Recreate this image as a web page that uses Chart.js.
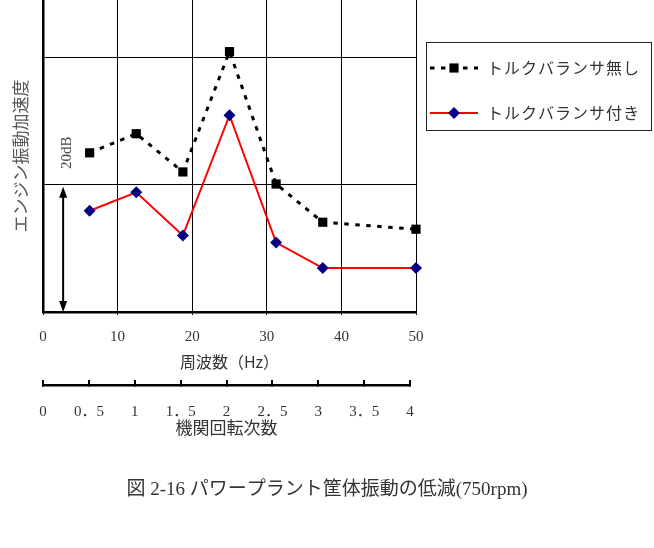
<!DOCTYPE html>
<html><head><meta charset="utf-8">
<script src="https://cdn.jsdelivr.net/npm/chart.js@4/dist/chart.umd.min.js"></script>
<style>html,body{margin:0;padding:0;background:#fff;}</style>
</head><body>
<canvas id="c" width="654" height="548"></canvas>
<script>
// ---- data ----
const frequencyHz = [6.25, 12.5, 18.75, 25, 31.25, 37.5, 50];
const withoutBalancer = [25.0, 28.0, 22.0, 40.9, 20.1, 14.1, 13.0];
const withBalancer = [15.9, 18.8, 12.0, 30.9, 10.9, 6.9, 6.9];
const seriesNames = ['トルクバランサ無し', 'トルクバランサ付き'];
const hzTickValues = [0, 10, 20, 30, 40, 50];
const orderTickValues = [0, 0.5, 1, 1.5, 2, 2.5, 3, 3.5, 4];
const orderTickLabels = ['0', '0．5', '1', '1．5', '2', '2．5', '3', '3．5', '4'];
const orderAxisEndHz = 49.2;           // where order 4 sits along the Hz axis in the drawing
const scaleBar = {hz: 2.7, from: 0, to: 20, labelAt: 25, label: '20dB'};
const yMax = 49;

const SERIF = "'Liberation Serif','Noto Sans CJK JP',serif";
const JP = "'Noto Sans CJK JP',sans-serif";

const orderAxisSpan = {
  id: 'orderAxisSpan',
  afterLayout(chart) {
    const s = chart.scales.x2, xs = chart.scales.x;
    s.right = xs.getPixelForValue(orderAxisEndHz);
    s.width = s.right - s.left;
    s.configure();
  }
};

const extras = {
  id: 'extras',
  afterDraw(chart) {
    const ctx = chart.ctx, xs = chart.scales.x, ys = chart.scales.y, ca = chart.chartArea;
    ctx.save();
    // 20dB bar
    const ax = xs.getPixelForValue(scaleBar.hz);
    const yb = ys.getPixelForValue(scaleBar.from), yt = ys.getPixelForValue(scaleBar.to);
    ctx.strokeStyle = '#000'; ctx.fillStyle = '#000'; ctx.lineWidth = 2;
    ctx.beginPath(); ctx.moveTo(ax, yt + 6); ctx.lineTo(ax, yb - 6); ctx.stroke();
    ctx.beginPath(); ctx.moveTo(ax, yt + 2); ctx.lineTo(ax - 4, yt + 13); ctx.lineTo(ax + 4, yt + 13); ctx.closePath(); ctx.fill();
    ctx.beginPath(); ctx.moveTo(ax, yb); ctx.lineTo(ax - 4, yb - 11); ctx.lineTo(ax + 4, yb - 11); ctx.closePath(); ctx.fill();
    ctx.save();
    ctx.translate(ax + 4, ys.getPixelForValue(scaleBar.labelAt));
    ctx.rotate(-Math.PI / 2);
    ctx.font = "15px " + SERIF; ctx.fillStyle = '#444';
    ctx.textAlign = 'center'; ctx.textBaseline = 'middle';
    ctx.fillText(scaleBar.label, 0, 0);
    ctx.restore();

    // legend
    const L = ca.right + 10, T = 42, W = 225, H = 88;
    ctx.lineWidth = 1; ctx.strokeStyle = '#222';
    ctx.strokeRect(L + 0.5, T + 0.5, W, H);
    const rows = [T + 26, T + 71];
    chart.data.datasets.forEach((ds, i) => {
      const y = rows[i];
      ctx.save();
      ctx.strokeStyle = ds.borderColor; ctx.lineWidth = ds.borderWidth;
      ctx.setLineDash(ds.borderDash || []);
      ctx.beginPath(); ctx.moveTo(L + 4, y); ctx.lineTo(L + 52, y); ctx.stroke();
      ctx.restore();
      ctx.fillStyle = ds.pointBackgroundColor;
      ctx.beginPath();
      if (ds.pointStyle === 'rect') { const h = ds.pointRadius * Math.SQRT1_2; ctx.rect(L + 28 - h, y - h, 2 * h, 2 * h); }
      else { const r = ds.pointRadius; ctx.moveTo(L + 28 - r, y); ctx.lineTo(L + 28, y - r); ctx.lineTo(L + 28 + r, y); ctx.lineTo(L + 28, y + r); ctx.closePath(); }
      ctx.fill();
      ctx.font = "16px " + JP; ctx.fillStyle = '#333';
      ctx.textAlign = 'left'; ctx.textBaseline = 'middle';
      try { ctx.letterSpacing = '1px'; } catch (e) {}
      ctx.fillText(ds.label, L + 61, y);
      try { ctx.letterSpacing = '0px'; } catch (e) {}
    });
    ctx.restore();
  }
};

new Chart(document.getElementById('c'), {
  type: 'line',
  data: {
    datasets: [
      {label: seriesNames[0], data: frequencyHz.map((x, i) => ({x, y: withoutBalancer[i]})),
       borderColor: '#000', borderWidth: 3, borderDash: [4.5, 6.5], pointStyle: 'rect', pointRadius: 6.5,
       pointBackgroundColor: '#000', pointBorderColor: '#000', pointBorderWidth: 0, tension: 0, fill: false, clip: false},
      {label: seriesNames[1], data: frequencyHz.map((x, i) => ({x, y: withBalancer[i]})),
       borderColor: '#ff0000', borderWidth: 2, pointStyle: 'rectRot', pointRadius: 6,
       pointBackgroundColor: '#000080', pointBorderColor: '#000080', pointBorderWidth: 0, tension: 0, fill: false, clip: false}
    ]
  },
  options: {
    responsive: false, animation: false, devicePixelRatio: 1,
    layout: {autoPadding: false, padding: {left: 0, right: 0, top: 0, bottom: 0}},
    plugins: {
      legend: {display: false}, tooltip: {enabled: false},
      title: {display: true, position: 'bottom', text: '図 2-16 パワープラント筐体振動の低減(750rpm)',
        font: {family: SERIF, size: 19, weight: 'normal'}, color: '#333', padding: {top: 38.6, bottom: 46.6}}
    },
    scales: {
      x: {type: 'linear', position: 'bottom', weight: 0, min: 0, max: 50,
        afterBuildTicks: s => { s.ticks = hzTickValues.map(v => ({value: v})); },
        grid: {color: '#000', lineWidth: 1, drawTicks: true, tickLength: 3, tickColor: '#000'},
        border: {display: true, color: '#000', width: 2.5},
        ticks: {font: {family: SERIF, size: 15}, color: '#333', padding: 13, maxRotation: 0, autoSkip: false},
        title: {display: true, text: '周波数（Hz）', font: {family: JP, size: 16}, color: '#333', padding: {top: 0, bottom: 13.4}},
        afterFit: s => { s.height = 73; }},
      x2: {type: 'linear', position: 'bottom', weight: 1, min: 0, max: 4,
        afterBuildTicks: s => { s.ticks = orderTickValues.map(v => ({value: v})); },
        grid: {drawOnChartArea: false, drawTicks: true, tickLength: -5, color: '#000', lineWidth: 2},
        border: {display: true, color: '#000', width: 2.5},
        ticks: {font: {family: SERIF, size: 15}, color: '#333', padding: 23, maxRotation: 0, autoSkip: false,
          callback: (v, i) => orderTickLabels[i]},
        title: {display: true, text: '機関回転次数', font: {family: JP, size: 17}, color: '#333', padding: {top: 0, bottom: 1.8}},
        afterFit: s => { s.height = 55; }},
      y: {type: 'linear', position: 'left', min: 0, max: yMax,
        ticks: {display: false, stepSize: 20, includeBounds: false},
        grid: {color: '#000', lineWidth: 1, drawTicks: false},
        border: {display: true, color: '#000', width: 2.5},
        title: {display: true, text: 'エンジン振動加速度', font: {family: JP, size: 17}, color: '#555', padding: {top: 10, bottom: 0}},
        afterFit: s => { s.width = 43; }},
      legendSpace: {type: 'linear', position: 'right', display: true, min: 0, max: 1,
        ticks: {display: false}, grid: {display: false, drawTicks: false}, border: {display: false},
        afterFit: s => { s.width = 238; }}
    }
  },
  plugins: [orderAxisSpan, extras]
});
</script>
</body></html>
